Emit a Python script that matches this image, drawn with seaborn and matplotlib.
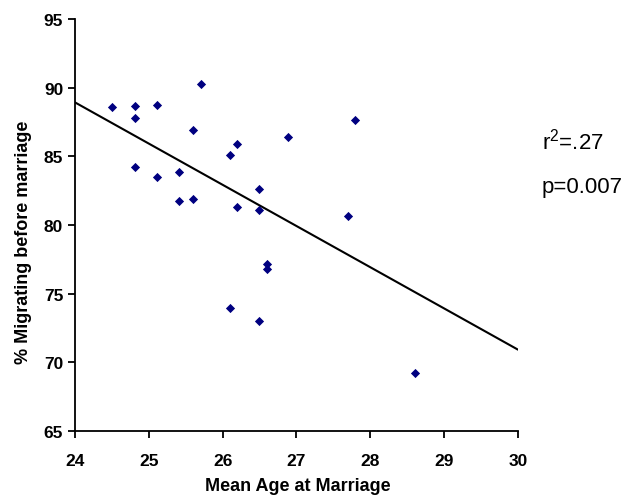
import matplotlib
matplotlib.use("Agg")
import matplotlib.pyplot as plt
import seaborn as sns
import pandas as pd

# values
mean_age = [24.5, 24.81, 24.81, 25.11, 25.71, 25.6, 26.19, 26.1, 26.88, 27.79,
            24.81, 25.11, 25.41, 25.41, 25.6, 26.19, 26.49, 26.49, 27.7,
            26.6, 26.6, 26.1, 26.49, 28.6]
pct_migrating = [88.6, 88.66, 87.81, 88.74, 90.24, 86.92, 85.9, 85.07, 86.41, 87.64,
                 84.24, 83.47, 83.86, 81.72, 81.89, 81.31, 82.64, 81.07, 80.65,
                 77.16, 76.79, 73.95, 72.98, 69.2]
x_ticks = [24, 25, 26, 27, 28, 29, 30]
y_ticks = [65, 70, 75, 80, 85, 90, 95]

df = pd.DataFrame({"age": mean_age, "pct": pct_migrating})

sns.set_style("ticks")
plt.rcParams["font.family"] = ["Liberation Sans", "DejaVu Sans"]
plt.rcParams["text.color"] = "black"
plt.rcParams["axes.labelcolor"] = "black"
plt.rcParams["mathtext.fontset"] = "custom"
plt.rcParams["mathtext.rm"] = "Liberation Sans"

fig = plt.figure(figsize=(6.29, 5.02), dpi=100)
ax = fig.add_axes([75 / 629, 1 - 432 / 502, 443 / 629, 412 / 502])
ax.set_xlim(24, 30)
ax.set_ylim(65, 95)

# trendline across the whole x range, plus the diamonds
sns.regplot(data=df, x="age", y="pct", ax=ax, ci=None, truncate=False, marker="D",
            scatter_kws={"s": 22, "color": "#000080", "alpha": 1, "linewidths": 0, "zorder": 3},
            line_kws={"color": "black", "linewidth": 1.5, "zorder": 2})

ax.set_xlim(24, 30)
ax.set_ylim(65, 95)
ax.set_xticks(x_ticks)
ax.set_yticks(y_ticks)
ax.tick_params(axis="both", direction="out", length=5, width=1.3, colors="black",
               labelsize=12.5)
ax.tick_params(axis="x", pad=11)
for lab in ax.get_xticklabels() + ax.get_yticklabels():
    lab.set_fontweight("bold")

for s in ["top", "right"]:
    ax.spines[s].set_visible(False)
for s in ["left", "bottom"]:
    ax.spines[s].set_linewidth(1.3)
    ax.spines[s].set_color("black")
    ax.spines[s].set_clip_on(False)

ax.set_xlabel("Mean Age at Marriage", fontsize=13, fontweight="bold")
ax.set_ylabel("% Migrating before marriage", fontsize=13, fontweight="bold")
ax.xaxis.set_label_coords(0.502, -0.112)
ax.yaxis.set_label_coords(-0.097, 0.46)

fig.text(542 / 629, 1 - 142 / 502, r"r$^\mathrm{2}$=.27", fontsize=16, ha="left", va="center")
fig.text(542 / 629, 1 - 187 / 502, "p=0.007", fontsize=16, ha="left", va="center")

fig.savefig("out.png", dpi=100, facecolor="white")
